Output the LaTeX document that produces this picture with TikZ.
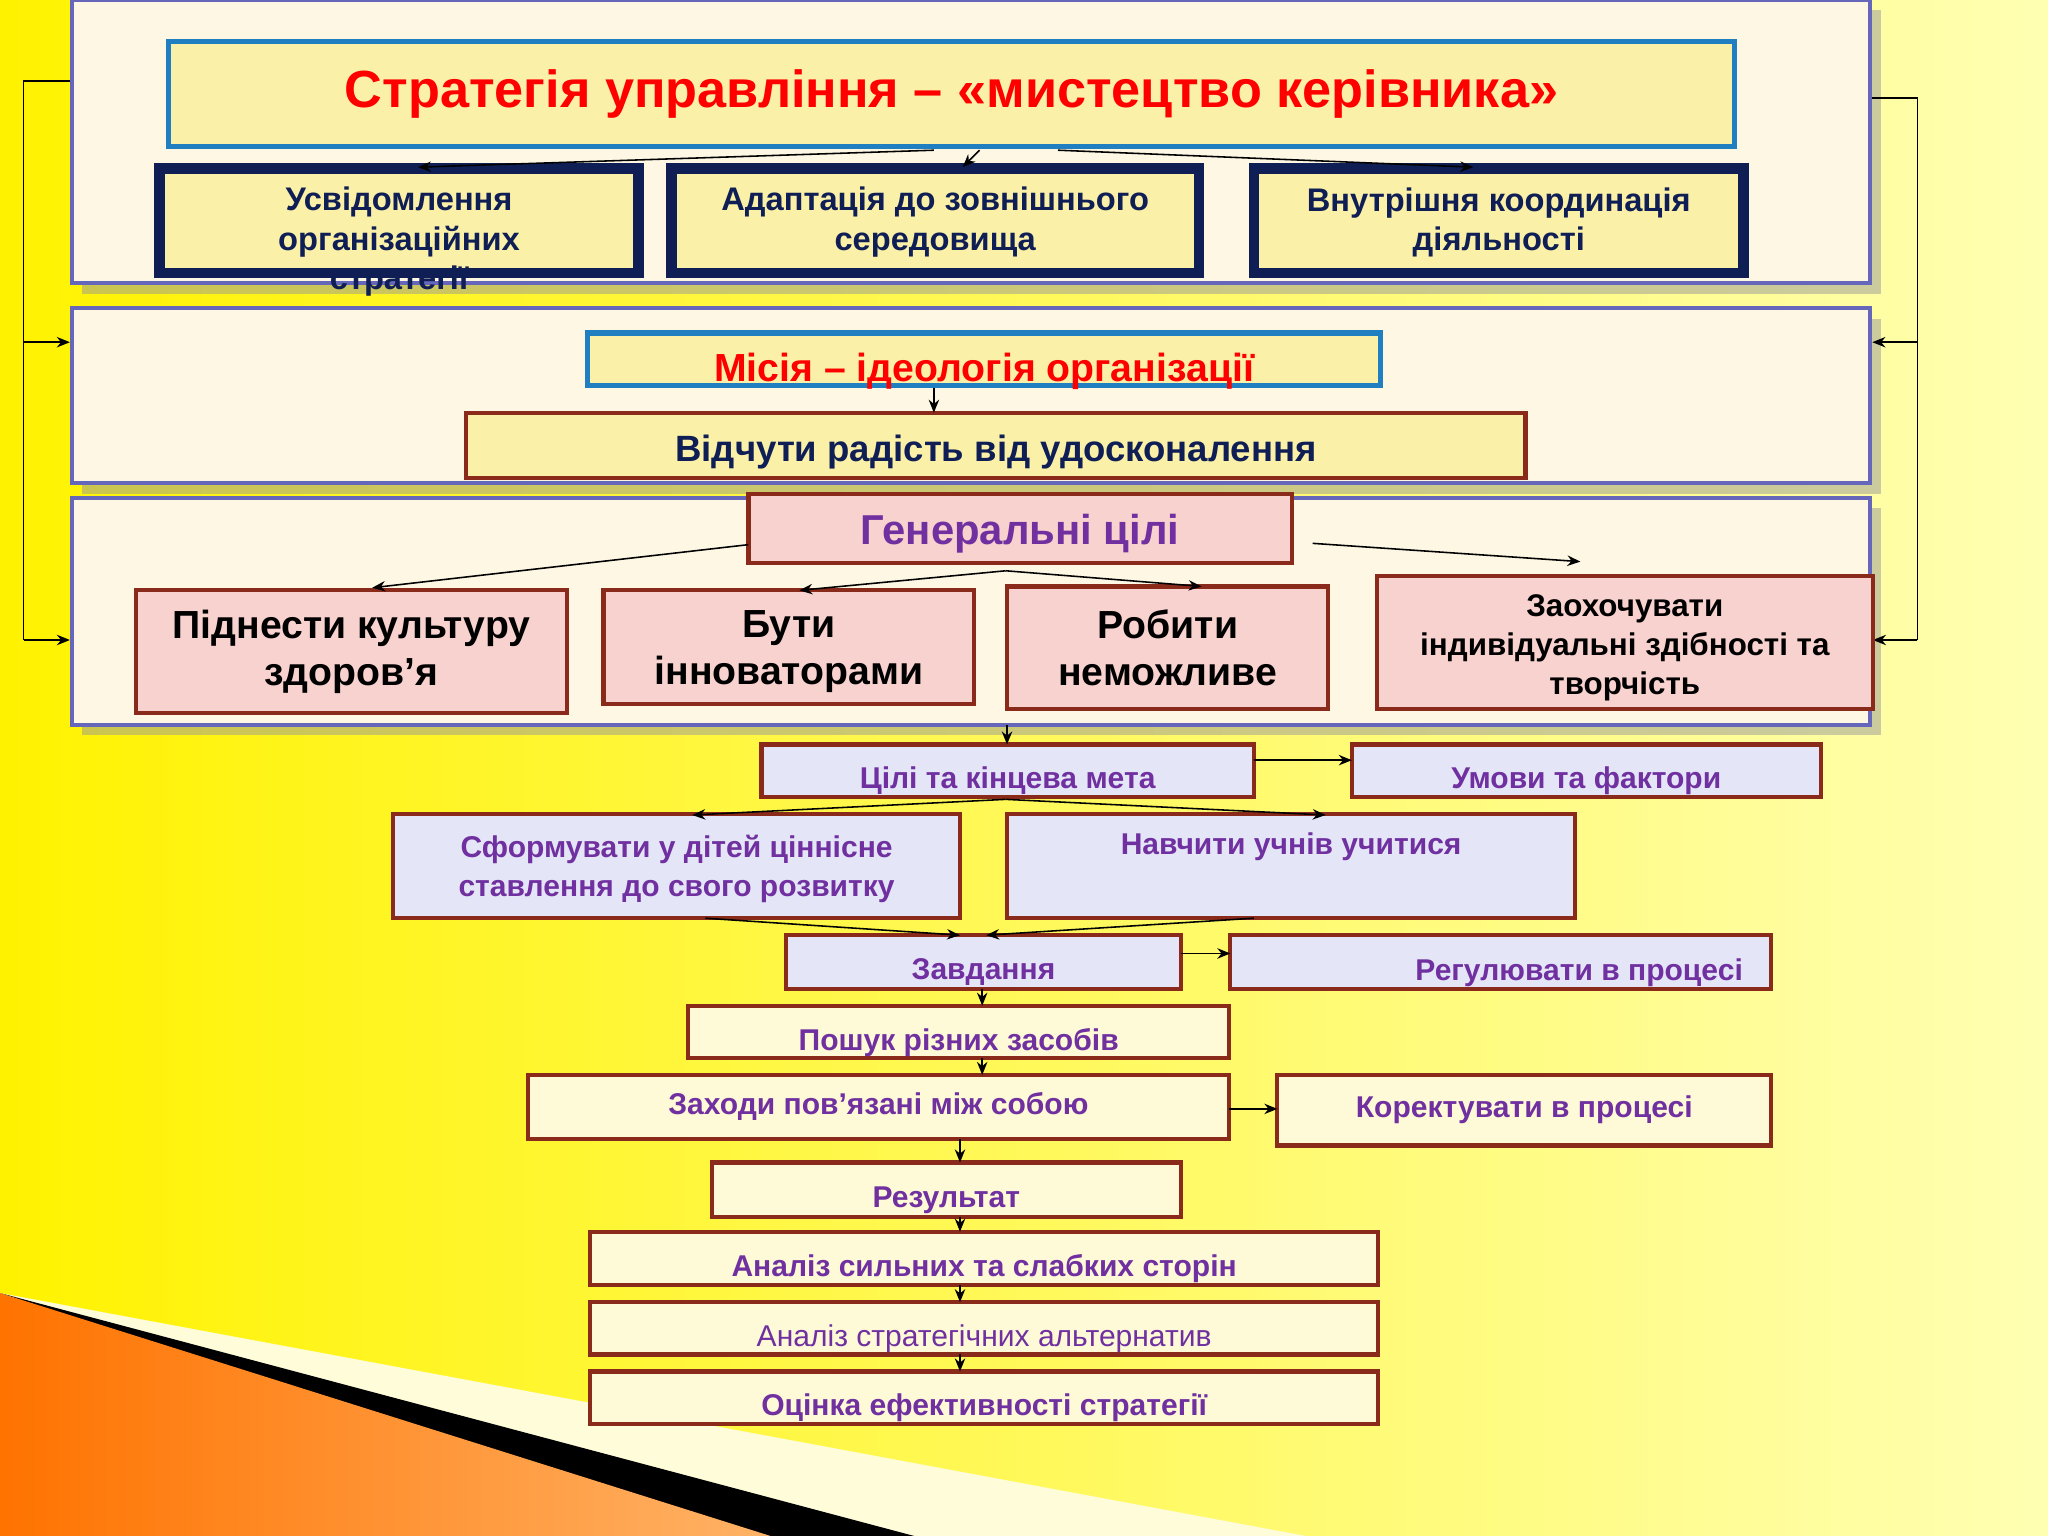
\documentclass[tikz,border=0pt]{standalone}
\usepackage{fontspec}
\setmainfont{Liberation Sans}
\usetikzlibrary{arrows.meta,shadows}
\definecolor{navy}{HTML}{0F1F55}
\definecolor{brn}{HTML}{8A2A1A}
\definecolor{pur}{HTML}{7030A0}
\definecolor{cream}{HTML}{FDF7E4}
\definecolor{lyel}{HTML}{FBF0A8}
\definecolor{pnk}{HTML}{F8D2CE}
\definecolor{lav}{HTML}{E4E6F8}
\definecolor{cr2}{HTML}{FEFAD8}
\definecolor{bblue}{HTML}{1F7FC0}
\tikzset{
 panel/.style={draw=black!45!blue!60,line width=1.5pt,fill=cream,drop shadow={shadow xshift=4pt,shadow yshift=-4pt,fill=black!40}},
 ttl/.style={draw=bblue,line width=2pt,fill=lyel,font=\bfseries\fontsize{20}{24}\selectfont,text=red},
 nbox/.style={draw=navy,line width=4pt,fill=lyel,font=\bfseries\fontsize{12.5}{15}\selectfont,text=navy,align=center},
 gbox/.style={draw=brn,line width=1.6pt,fill=pnk,font=\bfseries\fontsize{15}{18}\selectfont,align=center},
 lbox/.style={draw=brn,line width=1.6pt,fill=lav,font=\bfseries\fontsize{11.5}{15}\selectfont,text=pur,align=center},
 cbox/.style={draw=brn,line width=1.6pt,fill=cr2,font=\bfseries\fontsize{11.5}{14}\selectfont,text=pur,align=center},
 ar/.style={-{Stealth[length=5pt,width=4pt]},line width=0.6pt},
}
% box with text at shifted position: name, x1,y1,x2,y2, style, text, yshift(px, down positive)
\newcommand{\bx}[8]{\node[#6,minimum width={(#4-#2)*0.5pt},minimum height={(#5-#3)*0.5pt},inner sep=0pt] (#1) at ({(#2+#4)/2},{(#3+#5)/2}) {};
\node[#6,draw=none,fill=none,inner sep=1pt] (#1t) at ([yshift={-(#8)*0.5pt}]#1.center) {#7};}
\begin{document}
\begin{tikzpicture}[x=0.5pt,y=-0.5pt]
\shade[left color=yellow!90!orange,right color=yellow!30] (0,0) rectangle (1568,1176);
\useasboundingbox (0,0) rectangle (1568,1176);
\fill[yellow!15] (0,990) -- (1000,1176) -- (0,1176) -- cycle;
\fill[black] (0,990) -- (700,1176) -- (560,1176) -- cycle;
\shade[left color=orange!90!red,right color=orange!60] (0,990) -- (590,1176) -- (0,1176) -- cycle;
% panels
\node[panel,minimum width=688.5pt,minimum height=108.5pt] (p1) at (743.5,108.5) {};
\node[panel,minimum width=688.5pt,minimum height=67pt] (p2) at (743.5,303) {};
\node[panel,minimum width=688.5pt,minimum height=87pt] (p3) at (743.5,468) {};
\bx{t}{129}{32}{1328}{112}{ttl}{Стратегія  управління  –  «мистецтво  керівника»}{0}
\bx{a1}{122}{129}{489}{209}{nbox}{Усвідомлення\\організаційних\\стратегії}{16}
\bx{a2}{514}{129}{918}{209}{nbox}{Адаптація до зовнішнього\\середовища}{1}
\bx{a3}{960}{129}{1335}{209}{nbox}{Внутрішня координація\\діяльності}{1}
\draw[ar] (715,115) -- (320,128);
\draw[ar] (750,115) -- (737,128);
\draw[ar] (810,115) -- (1128,128);
% side brackets
\coordinate (l0) at (18,62); \coordinate (r0) at (1468,75);
\draw[line width=0.7pt] (p1.west|-l0) -- (l0) -- (18,490);
\draw[ar] (18,262) -- (p2.west|-0,262);
\draw[ar] (18,490) -- (p3.west|-0,490);
\draw[line width=0.7pt] (p1.east|-r0) -- (r0) -- (1468,490);
\draw[ar] (1468,262) -- (p2.east|-0,262);
\draw[ar] (1468,490) -- (1434,490);
% mission
\bx{m}{450}{255}{1057}{295}{ttl,font=\bfseries\fontsize{15}{18}\selectfont}{Місія – ідеологія організації}{9}
\bx{v}{357}{316}{1168}{366}{cbox,fill=lyel,text=navy,font=\bfseries\fontsize{14}{17}\selectfont}{Відчути радість від удосконалення}{5}
\draw[ar] (715,297) -- (715,316);
% goals
\bx{g}{573}{378}{989}{431}{gbox,text=pur,font=\bfseries\fontsize{16}{19}\selectfont}{Генеральні цілі}{4}
\bx{g1}{104}{452}{434}{546}{gbox}{Піднести культуру\\здоров’я}{0}
\bx{g2}{462}{452}{746}{539}{gbox}{Бути\\інноваторами}{3}
\bx{g3}{771}{449}{1017}{543}{gbox}{Робити\\неможливе}{0}
\bx{g4}{1054}{441}{1434}{543}{gbox,font=\bfseries\fontsize{12}{15}\selectfont}{Заохочувати\\індивідуальні здібності та\\творчість}{4}
\draw[ar] (573,417) -- (285,450);
\draw[ar] (770,437) -- (612,452);
\draw[ar] (770,437) -- (920,449);
\draw[ar] (1005,416) -- (1210,430);
% lower chain
\bx{c}{583}{570}{960}{610}{lbox}{Цілі та кінцева мета}{8}
\bx{u}{1035}{570}{1394}{610}{lbox}{Умови та фактори}{8}
\draw[ar] (771,555) -- (771,570);
\draw[ar] (960,582) -- (1035,582);
\bx{s}{301}{623}{735}{703}{lbox}{Сформувати у дітей ціннісне\\ставлення до свого розвитку}{2}
\bx{n}{771}{623}{1206}{703}{lbox}{Навчити учнів учитися}{-15}
\draw[ar] (770,612) -- (530,624);
\draw[ar] (770,612) -- (1015,624);
\bx{z}{602}{716}{904}{757}{lbox}{Завдання}{8}
\bx{r}{942}{716}{1356}{757}{lbox}{\hspace*{60pt}Регулювати в процесі}{8}
\draw[ar] (540,703) -- (735,716);
\draw[ar] (960,703) -- (755,716);
\draw[ar] (904,730) -- (942,730);
\bx{p}{527}{770}{941}{810}{cbox}{Пошук різних засобів}{8}
\draw[ar] (752,757) -- (752,770);
\bx{zh}{404}{823}{941}{872}{cbox}{Заходи пов’язані між собою}{0}
\bx{k}{978}{823}{1356}{877}{cbox}{Коректувати в процесі}{0}
\draw[ar] (752,810) -- (752,823);
\draw[ar] (941,849) -- (978,849);
\bx{res}{545}{890}{904}{932}{cbox}{Результат}{8}
\draw[ar] (735,872) -- (735,890);
\bx{an1}{452}{943}{1055}{984}{cbox}{Аналіз сильних та слабких сторін}{8}
\draw[ar] (735,932) -- (735,943);
\bx{an2}{452}{997}{1055}{1037}{cbox,font=\fontsize{11.5}{14}\selectfont}{Аналіз стратегічних альтернатив}{8}
\draw[ar] (735,984) -- (735,997);
\bx{oc}{452}{1050}{1055}{1090}{cbox}{Оцінка ефективності стратегії}{8}
\draw[ar] (735,1037) -- (735,1050);
\end{tikzpicture}
\end{document}
